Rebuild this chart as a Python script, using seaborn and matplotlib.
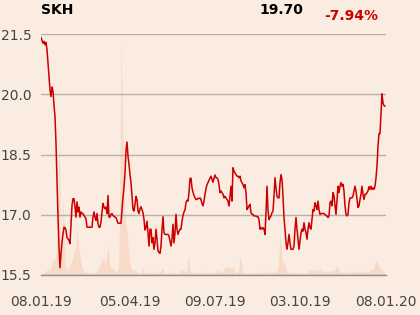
import numpy as np
import pandas as pd
import matplotlib
matplotlib.use("Agg")
import matplotlib.pyplot as plt
import seaborn as sns

# ---------------- data ----------------
ticker = "SKH"
last_price = "19.70"
change_pct = "-7.94%"

tick_labels = ["08.01.19", "05.04.19", "09.07.19", "03.10.19", "08.01.20"]

price_q1 = [21.42, 21.34, 21.27, 21.32, 21.23, 21.29, 21.11, 20.78, 20.44, 20.11,
            19.94, 20.18, 20.07, 19.73, 19.44, 18.78, 17.86, 16.94, 16.19, 15.68,
            16.03, 16.32, 16.53, 16.69, 16.68, 16.61, 16.43, 16.40, 16.36, 16.28,
            16.78, 17.23, 17.40, 17.40, 17.19, 16.94, 17.32, 17.07, 17.19, 16.94,
            17.07, 17.03, 17.03, 16.98, 16.94, 16.90, 16.69, 16.69, 16.69, 16.69,
            16.69, 16.69, 16.94, 17.07, 16.94, 16.86, 17.03, 16.78, 16.69, 16.69,
            16.82, 17.07, 17.28, 17.19, 17.15, 17.19, 17.03, 17.48, 16.94, 16.94,
            17.01, 17.03, 16.98, 16.96, 16.94, 16.93, 16.86, 16.79, 16.79, 16.79,
            16.79, 17.11, 17.44, 17.69, 18.03, 18.61]
price_q2 = [18.81,
            18.46, 18.25, 18.00, 17.80, 17.46, 17.13, 17.09, 17.26, 17.46, 17.38,
            17.09, 17.03, 17.15, 17.20, 17.13, 17.05, 16.88, 16.62, 16.68, 16.84,
            16.55, 16.22, 16.64, 16.64, 16.30, 16.43, 16.14, 16.30, 16.64, 16.39,
            16.10, 16.06, 16.04, 16.22, 16.64, 16.95, 16.55, 16.51, 16.51, 16.51,
            16.51, 16.47, 16.35, 16.22, 16.39, 16.76, 16.30, 16.55, 17.01, 16.64,
            16.51, 16.59, 16.64, 16.64, 16.84, 16.98, 17.07, 17.12, 17.30, 17.36,
            17.34, 17.55, 17.90, 17.91, 17.67, 17.56, 17.48, 17.42, 17.38, 17.38,
            17.41, 17.40, 17.42, 17.38, 17.28, 17.22, 17.34, 17.51, 17.65, 17.75,
            17.80, 17.86, 17.91, 17.96, 17.88, 17.81, 17.91, 17.99, 17.92, 17.92]
price_q3 = [17.88, 17.75, 17.55, 17.59, 17.55, 17.51, 17.42, 17.46, 17.42, 17.38,
            17.34, 17.22, 17.46, 17.71, 17.34, 18.17, 18.09, 18.04, 18.00, 17.96,
            17.96, 17.92, 17.96, 17.84, 17.80, 17.75, 17.67, 17.75, 17.55, 17.13,
            17.17, 17.22, 17.26, 17.05, 17.01, 17.01, 16.97, 16.97, 16.97, 16.95,
            16.95, 16.88, 16.64, 16.68, 16.64, 16.68, 16.64, 16.51, 17.05, 17.71,
            17.13, 16.88, 16.93, 16.97, 17.05, 17.09, 17.46, 17.92, 17.67, 17.46,
            17.42, 17.42, 17.80, 18.00, 17.88, 17.46, 16.93, 16.64, 16.30, 16.14,
            16.30, 16.51, 16.30, 16.14, 16.14, 16.14, 16.22, 16.64, 16.93, 16.64,
            16.39, 16.14, 16.35, 16.55, 16.64, 16.59]
price_q4 = [16.80, 16.64, 16.55, 16.39, 16.64, 16.80, 16.68, 16.64, 16.89, 17.13,
            17.09, 17.30, 17.22, 17.13, 17.34, 17.13, 17.01, 17.03, 17.03, 17.03,
            17.03, 17.01, 16.98, 16.97, 16.93, 16.97, 17.30, 17.34, 17.22, 17.55,
            17.47, 17.22, 17.01, 17.38, 17.71, 17.55, 17.71, 17.80, 17.71, 17.76,
            17.59, 17.22, 17.01, 16.97, 17.01, 17.30, 17.42, 17.42, 17.42, 17.47,
            17.59, 17.71, 17.59, 17.38, 17.18, 17.22, 17.38, 17.51, 17.71, 17.51,
            17.38, 17.51, 17.51, 17.55, 17.59, 17.70, 17.63, 17.71, 17.63, 17.67,
            17.63, 17.71, 17.92, 18.21, 18.71, 19.02, 19.02, 19.54, 20.01, 19.78,
            19.72, 19.70]

volume = [3, 2, 2, 3, 2, 4, 5, 6, 5, 4,
          8, 12, 16, 18, 14, 20, 40, 80, 139, 90,
          30, 40, 77, 50, 15, 8, 6, 5, 8, 10,
          12, 15, 20, 25, 22, 30, 47, 35, 25, 18,
          12, 8, 5, 4, 3, 3, 2, 2, 2, 3,
          2, 2, 3, 2, 2, 3, 4, 6, 8, 10,
          12, 15, 17, 16, 12, 15, 22, 29, 20, 10,
          6, 7, 8, 6, 4, 3, 4, 6, 20, 120,
          241, 180, 130, 90, 60, 50, 45, 30, 20, 12,
          8, 5, 4, 6, 4, 3, 3, 2, 2, 3,
          2, 6, 8, 4, 3, 2, 2, 3, 2, 2,
          3, 2, 2, 5, 3, 2, 2, 2, 2, 3,
          4, 7, 6, 4, 2, 2, 2, 3, 2, 2,
          2, 2, 4, 3, 2, 2, 2, 2, 2, 5,
          6, 5, 4, 6, 4, 3, 8, 19, 15, 5,
          3, 2, 3, 2, 2, 3, 2, 2, 3, 2,
          4, 3, 2, 2, 3, 2, 4, 3, 2, 2,
          2, 3, 2, 2, 3, 4, 5, 5, 4, 3,
          2, 3, 4, 7, 8, 6, 8, 9, 7, 5,
          8, 6, 9, 5, 3, 2, 2, 3, 8, 19,
          15, 5, 3, 2, 3, 2, 2, 3, 2, 2,
          3, 2, 2, 2, 2, 3, 2, 2, 3, 2,
          2, 3, 4, 3, 2, 3, 4, 3, 3, 2,
          3, 2, 3, 3, 2, 3, 4, 8, 20, 41,
          35, 14, 13, 12, 10, 6, 3, 3, 2, 3,
          2, 3, 2, 2, 3, 2, 2, 3, 2, 2,
          2, 2, 3, 2, 2, 3, 2, 4, 4, 5,
          6, 4, 5, 6, 4, 5, 6, 5, 4, 6,
          8, 5, 4, 3, 4, 3, 3, 4, 3, 3,
          6, 5, 4, 4, 6, 8, 9, 8, 5, 3,
          2, 3, 3, 2, 3, 3, 4, 3, 3, 2,
          3, 3, 4, 3, 4, 3, 3, 2, 3, 4,
          3, 3, 4, 3, 3, 4, 4, 3, 4, 5,
          4, 5, 6, 8, 12, 15, 14, 12, 8, 7,
          6, 5, 4, 3, 3]

price = price_q1 + price_q2 + price_q3 + price_q4
n = min(len(price), len(volume))
df = pd.DataFrame({"idx": np.arange(n), "price": price[:n], "volume": volume[:n]})

# ---------------- style ----------------
BG = "#FAECE1"
RED = "#CC0000"
sns.set_style("white")
plt.rcParams["font.family"] = ["DejaVu Sans"]

fig = plt.figure(figsize=(4.2, 3.15), dpi=100, facecolor=BG)
ax = fig.add_axes([41 / 420, 40 / 315, 345 / 420, 241 / 315])
axv = ax.twinx()
ax.set_zorder(2)
axv.set_zorder(1)
ax.patch.set_visible(False)
axv.set_facecolor(BG)

# volume (background area)
axv.fill_between(df["idx"], 0, df["volume"], color="#F7DAC6", linewidth=0, alpha=0.9)
axv.set_ylim(0, max(volume))
axv.set_yticks([])
for s in axv.spines.values():
    s.set_visible(False)

# price line
sns.lineplot(data=df, x="idx", y="price", ax=ax, color=RED, linewidth=1.1)

ax.set_ylim(15.5, 21.5)
ax.set_xlim(0, 345)
ax.set_yticks([15.5, 17.0, 18.5, 20.0, 21.5])
ax.set_yticklabels(["15.5", "17.0", "18.5", "20.0", "21.5"])
ax.set_xticks([0, 89, 174, 259, 345])
ax.set_xticklabels(tick_labels)
ax.set_xlabel("")
ax.set_ylabel("")

ax.grid(axis="y", color="#B5B1AD", linewidth=1.0)
ax.grid(axis="x", visible=False)
for side in ["top", "right", "left"]:
    ax.spines[side].set_visible(False)
ax.spines["bottom"].set_color("#8E8E8E")
ax.spines["bottom"].set_linewidth(1.0)

ax.tick_params(axis="y", length=0, pad=7, labelsize=10, labelcolor="#444444")
ax.tick_params(axis="x", length=9.5, width=1, color="#777777", pad=5,
               labelsize=10, labelcolor="#444444")

fig.text(41 / 420, 1 - 10 / 315, ticker, fontsize=10, fontweight="bold",
         color="black", ha="left", va="center")
fig.text(281.5 / 420, 1 - 9.5 / 315, last_price, fontsize=10, fontweight="bold",
         color="black", ha="center", va="center")
fig.text(351 / 420, 1 - 16.5 / 315, change_pct, fontsize=10, fontweight="bold",
         color=RED, ha="center", va="center")

fig.savefig("out.png", dpi=100, facecolor=BG)
